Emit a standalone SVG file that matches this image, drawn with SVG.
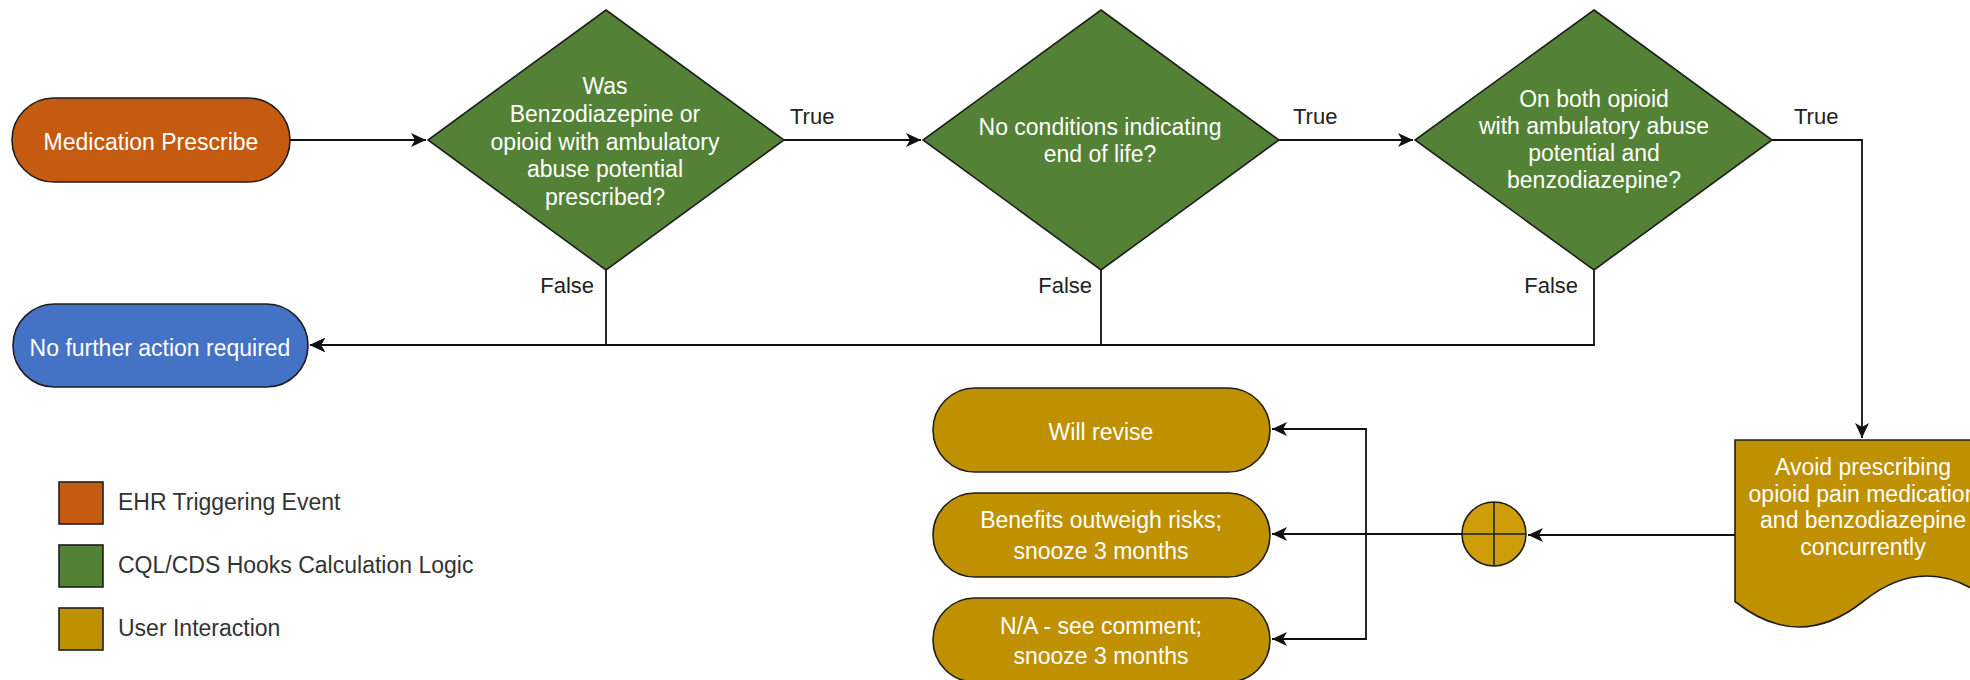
<svg xmlns="http://www.w3.org/2000/svg" width="1970" height="680" viewBox="0 0 1970 680">
<style>
text{font-family:"Liberation Sans",Arial,Helvetica,sans-serif;font-size:23px}
.w{fill:#ffffff;text-anchor:middle}
.lbl{fill:#222222;font-size:22px}
.leg{fill:#333333}
.shape{stroke:#1e1e1e;stroke-width:1.6}
.orange{fill:#C55A11}
.green{fill:#538135}
.blue{fill:#4472C4}
.gold{fill:#BF9000}
.conn{fill:none;stroke:#111111;stroke-width:1.8}
</style>
<defs>
<marker id="arr" markerUnits="userSpaceOnUse" markerWidth="16" markerHeight="14" refX="15" refY="7" orient="auto">
<path d="M0,0 L15,7 L0,14 L4,7 Z" fill="#111111"/>
</marker>
</defs>

<g id="connectors">
<path class="conn" d="M290,140 H426" marker-end="url(#arr)"/>
<path class="conn" d="M784,140 H921" marker-end="url(#arr)"/>
<path class="conn" d="M1279,140 H1413" marker-end="url(#arr)"/>
<path class="conn" d="M1772,140 H1862 V438" marker-end="url(#arr)"/>
<path class="conn" d="M606,270 V345 H310" marker-end="url(#arr)"/>
<path class="conn" d="M1101,270 V345 H310" marker-end="url(#arr)"/>
<path class="conn" d="M1594,270 V345 H310" marker-end="url(#arr)"/>
<path class="conn" d="M1735,535 H1528" marker-end="url(#arr)"/>
<path class="conn" d="M1462,534 H1366 V429 H1272" marker-end="url(#arr)"/>
<path class="conn" d="M1462,534 H1272" marker-end="url(#arr)"/>
<path class="conn" d="M1366,534 V639 H1272" marker-end="url(#arr)"/>
<text class="lbl" x="790" y="124">True</text>
<text class="lbl" x="1293" y="124">True</text>
<text class="lbl" x="1794" y="124">True</text>
<text class="lbl" x="594" y="293" text-anchor="end">False</text>
<text class="lbl" x="1092" y="293" text-anchor="end">False</text>
<text class="lbl" x="1578" y="293" text-anchor="end">False</text>
</g>

<g id="medication-prescribe">
<rect class="shape orange" x="12" y="98" width="278" height="84" rx="42" ry="42"/>
<text class="w" x="151" y="150">Medication Prescribe</text>
</g>

<g id="decision-1">
<polygon class="shape green" points="606,10 784,140 606,270 428,140"/>
<text class="w" x="605" y="94">Was</text>
<text class="w" x="605" y="122">Benzodiazepine or</text>
<text class="w" x="605" y="150">opioid with ambulatory</text>
<text class="w" x="605" y="177">abuse potential</text>
<text class="w" x="605" y="205">prescribed?</text>
</g>

<g id="decision-2">
<polygon class="shape green" points="1101,10 1279,140 1101,270 923,140"/>
<text class="w" x="1100" y="135">No conditions indicating</text>
<text class="w" x="1100" y="162">end of life?</text>
</g>

<g id="decision-3">
<polygon class="shape green" points="1594,10 1772,140 1594,270 1415,140"/>
<text class="w" x="1594" y="107">On both opioid</text>
<text class="w" x="1594" y="134">with ambulatory abuse</text>
<text class="w" x="1594" y="161">potential and</text>
<text class="w" x="1594" y="188">benzodiazepine?</text>
</g>

<g id="no-further-action">
<rect class="shape blue" x="13" y="304" width="295" height="83" rx="41.5" ry="41.5"/>
<text class="w" x="160" y="356">No further action required</text>
</g>

<g id="avoid-prescribing">
<path class="shape gold" d="M1735,440 H1991 V601.5 Q1927,550.5 1863,601.5 Q1799,652.5 1735,601.5 Z"/>
<text class="w" x="1863" y="475">Avoid prescribing</text>
<text class="w" x="1863" y="502">opioid pain medication</text>
<text class="w" x="1863" y="528">and benzodiazepine</text>
<text class="w" x="1863" y="555">concurrently</text>
</g>

<g id="or-gateway">
<circle class="shape" cx="1494" cy="534" r="32" fill="#CF9C0A"/>
<path d="M1494,502 V566 M1462,534 H1526" stroke="#1e1e1e" stroke-width="1.6" fill="none"/>
</g>

<g id="will-revise">
<rect class="shape gold" x="933" y="388" width="337" height="84" rx="42" ry="42"/>
<text class="w" x="1101" y="440">Will revise</text>
</g>

<g id="benefits-outweigh">
<rect class="shape gold" x="933" y="493" width="337" height="84" rx="42" ry="42"/>
<text class="w" x="1101" y="528">Benefits outweigh risks;</text>
<text class="w" x="1101" y="559">snooze 3 months</text>
</g>

<g id="na-see-comment">
<rect class="shape gold" x="933" y="598" width="337" height="84" rx="42" ry="42"/>
<text class="w" x="1101" y="634">N/A - see comment;</text>
<text class="w" x="1101" y="664">snooze 3 months</text>
</g>

<g id="legend">
<rect class="shape orange" x="59" y="482" width="44" height="42"/>
<text class="leg" x="118" y="510">EHR Triggering Event</text>
<rect class="shape green" x="59" y="545" width="44" height="42"/>
<text class="leg" x="118" y="573">CQL/CDS Hooks Calculation Logic</text>
<rect class="shape gold" x="59" y="608" width="44" height="42"/>
<text class="leg" x="118" y="636">User Interaction</text>
</g>
</svg>
